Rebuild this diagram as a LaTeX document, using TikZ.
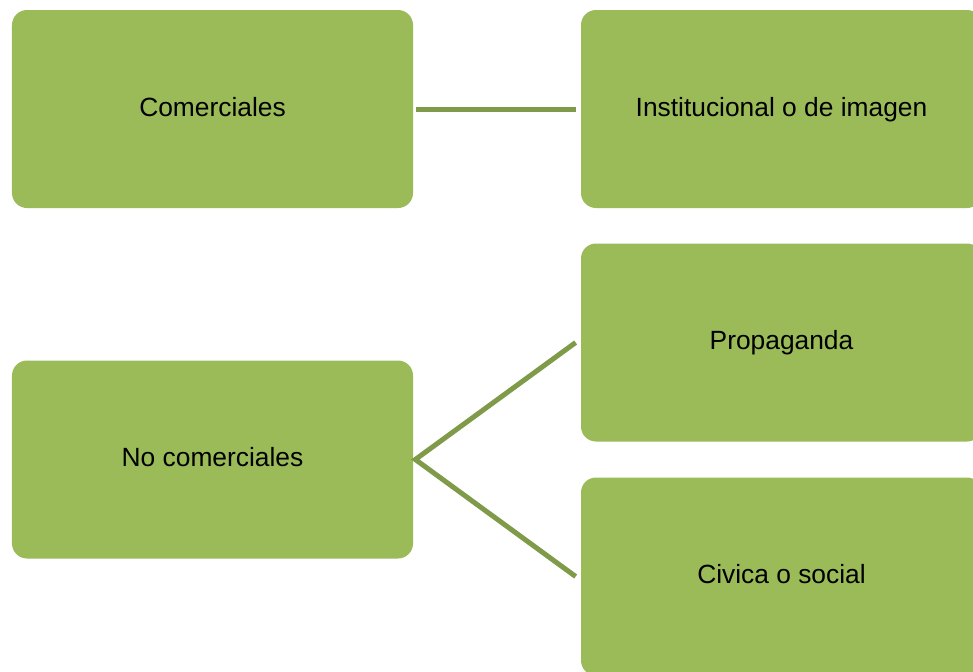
\documentclass[tikz,border=0pt]{standalone}
\usepackage{fontspec}
\setmainfont{Liberation Sans}
\usetikzlibrary{positioning}
\definecolor{boxgreen}{HTML}{9BBB59}
\definecolor{linegreen}{HTML}{7F9A48}
\tikzset{
  catbox/.style={fill=boxgreen, rounded corners=0.3cm, align=center,
    minimum width=8.02cm, minimum height=3.96cm, inner sep=0pt,
    text height=0.82em, text depth=0pt,
    font=\fontsize{15}{18}\selectfont},
  catlink/.style={draw=linegreen, line width=0.1cm},
}

\begin{document}
\begin{tikzpicture}
  \clip (0,0) rectangle (19.46,-13.42);
  \node[catbox] (com) at (4.25,-2.18) {Comerciales};
  \node[catbox] (inst) at (15.63,-2.18) {Institucional o de imagen};
  \node[catbox] (nocom) at (4.25,-9.19) {No comerciales};
  \node[catbox] (prop) at (15.63,-6.85) {Propaganda};
  \node[catbox] (civ) at (15.63,-11.53) {Civica o social};
  % enlaces entre categorias
  \draw[catlink] ([xshift=0.06cm]com.east) -- ([xshift=-0.1cm]inst.west);
  \draw[catlink] ([xshift=-0.1cm]prop.west) -- ([xshift=0.04cm]nocom.east) -- ([xshift=-0.1cm]civ.west);
\end{tikzpicture}
\end{document}
